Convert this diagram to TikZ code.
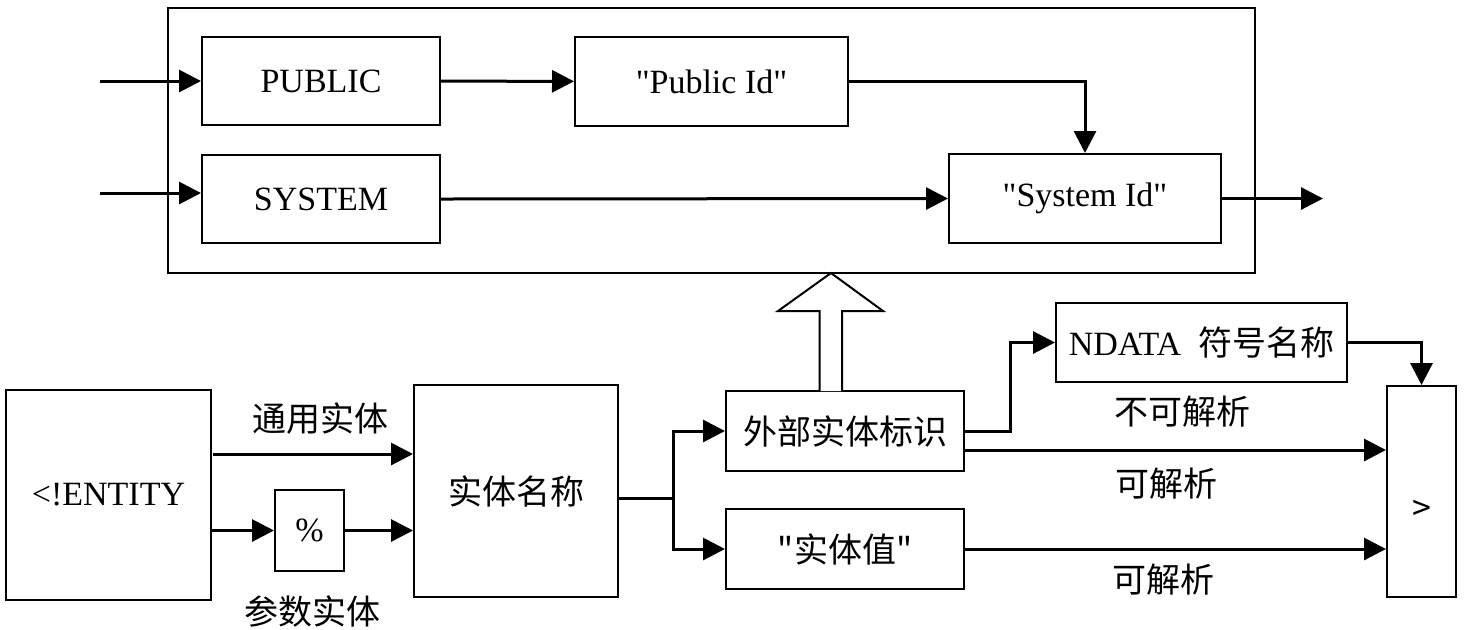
\documentclass[tikz,border=0pt]{standalone}
\usepackage{fontspec}
\setmainfont{Liberation Serif}
\newfontfamily\cjk{Noto Sans CJK SC}
\usepackage{tikz}
\usetikzlibrary{arrows.meta}

\tikzset{
    boite/.style={draw, line width=1pt, inner sep=0pt, font=\fontsize{17}{20}\selectfont},
    etiq/.style={inner sep=0pt, font=\fontsize{17}{20}\selectfont\cjk},
    fl/.style={line width=1.5pt, ->, >={Triangle[length=11pt,width=11pt]}}
}

\begin{document}
\begin{tikzpicture}[x=0.5pt, y=-0.5pt]
    \useasboundingbox (0,0) rectangle (1467,629);
    % cadre du haut
    \draw[line width=1pt] (168,8) rectangle (1255,273);
    \node[boite, minimum width=119pt, minimum height=44pt] (pub) at (321,81) {PUBLIC};
    \node[boite, minimum width=136.5pt, minimum height=44.5pt] (pubid) at (711.5,81.5) {\textquotedbl Public Id\textquotedbl};
    \node[boite, minimum width=119pt, minimum height=44pt] (sys) at (321,199) {SYSTEM};
    \node[boite, minimum width=136pt, minimum height=44.5pt] (sysid) at (1085,198.5) {\textquotedbl System Id\textquotedbl};
    \coordinate (inpub) at (100,81);
    \coordinate (insys) at (100,193);
    \coordinate (out) at (1323,198.5);
    \draw[fl] (inpub) -- (pub.west);
    \draw[fl] (insys) -- (insys -| sys.west);
    \draw[fl] (pub) -- (pubid);
    \draw[fl] (pubid.east) -| (sysid.north);
    \draw[fl] (sys.east) -- (sysid.west);
    \draw[fl] (sysid.east) -- (out);
    % partie du bas
    \node[boite, minimum width=102.5pt, minimum height=105pt] (ent) at (108.5,495) {<!ENTITY};
    \node[boite, minimum width=34.5pt, minimum height=40.5pt] (pct) at (309.5,530.5) {\%};
    \node[boite, minimum width=102pt, minimum height=106pt] (nom) at (516,491) {\cjk 实体名称};
    \node[boite, minimum width=119pt, minimum height=40pt] (ext) at (845,431) {\cjk 外部实体标识};
    \node[boite, minimum width=119pt, minimum height=40pt] (val) at (845,549) {\cjk "实体值"};
    \node[boite, minimum width=145.5pt, minimum height=39.5pt] (ndata) at (1201.5,342.5) {NDATA\ \ {\cjk 符号名称}};
    \node[boite, minimum width=34.5pt, minimum height=105.5pt,
        label={[etiq, yshift=-9.5pt]center:>}] (fin) at (1421.5,491.5) {};
    %flèches
    \coordinate (gen) at (213,454);
    \coordinate (fourche) at (673,498);
    \draw[fl] (gen) -- (gen -| nom.west);
    \draw[fl] (ent.east |- pct.west) -- (pct.west);
    \draw[fl] (pct.east) -- (pct.east -| nom.west);
    \draw[line width=1.5pt] (fourche -| nom.east) -- (fourche);
    \draw[fl] (fourche) |- (ext.west);
    \draw[fl] (fourche) |- (val.west);
    \draw[fl] (ext.east) -- ++(45,0) |- (ndata.west);
    \draw[fl] (ndata.east) -| (fin.north);
    \draw[fl] ([yshift=-9.5pt]ext.east) -- ([yshift=-9.5pt]ext.east -| fin.west);
    \draw[fl] (val.east) -- (val.east -| fin.west);
    %grosse flèche creuse
    \draw[line width=1pt, fill=white] (819.5,391) -- (819.5,311) -- (778,311) -- (831,273)
        -- (883,311) -- (842,311) -- (842,391);
    %étiquettes
    \node[etiq] (lgen) at (320,419) {通用实体};
    \node[etiq] (lpar) at (312,611) {参数实体};
    \node[etiq] (lnon) at (1182,412) {不可解析};
    \node[etiq] (lout) at (1166,484) {可解析};
    \node[etiq] (lval) at (1163,580) {可解析};
\end{tikzpicture}
\end{document}
